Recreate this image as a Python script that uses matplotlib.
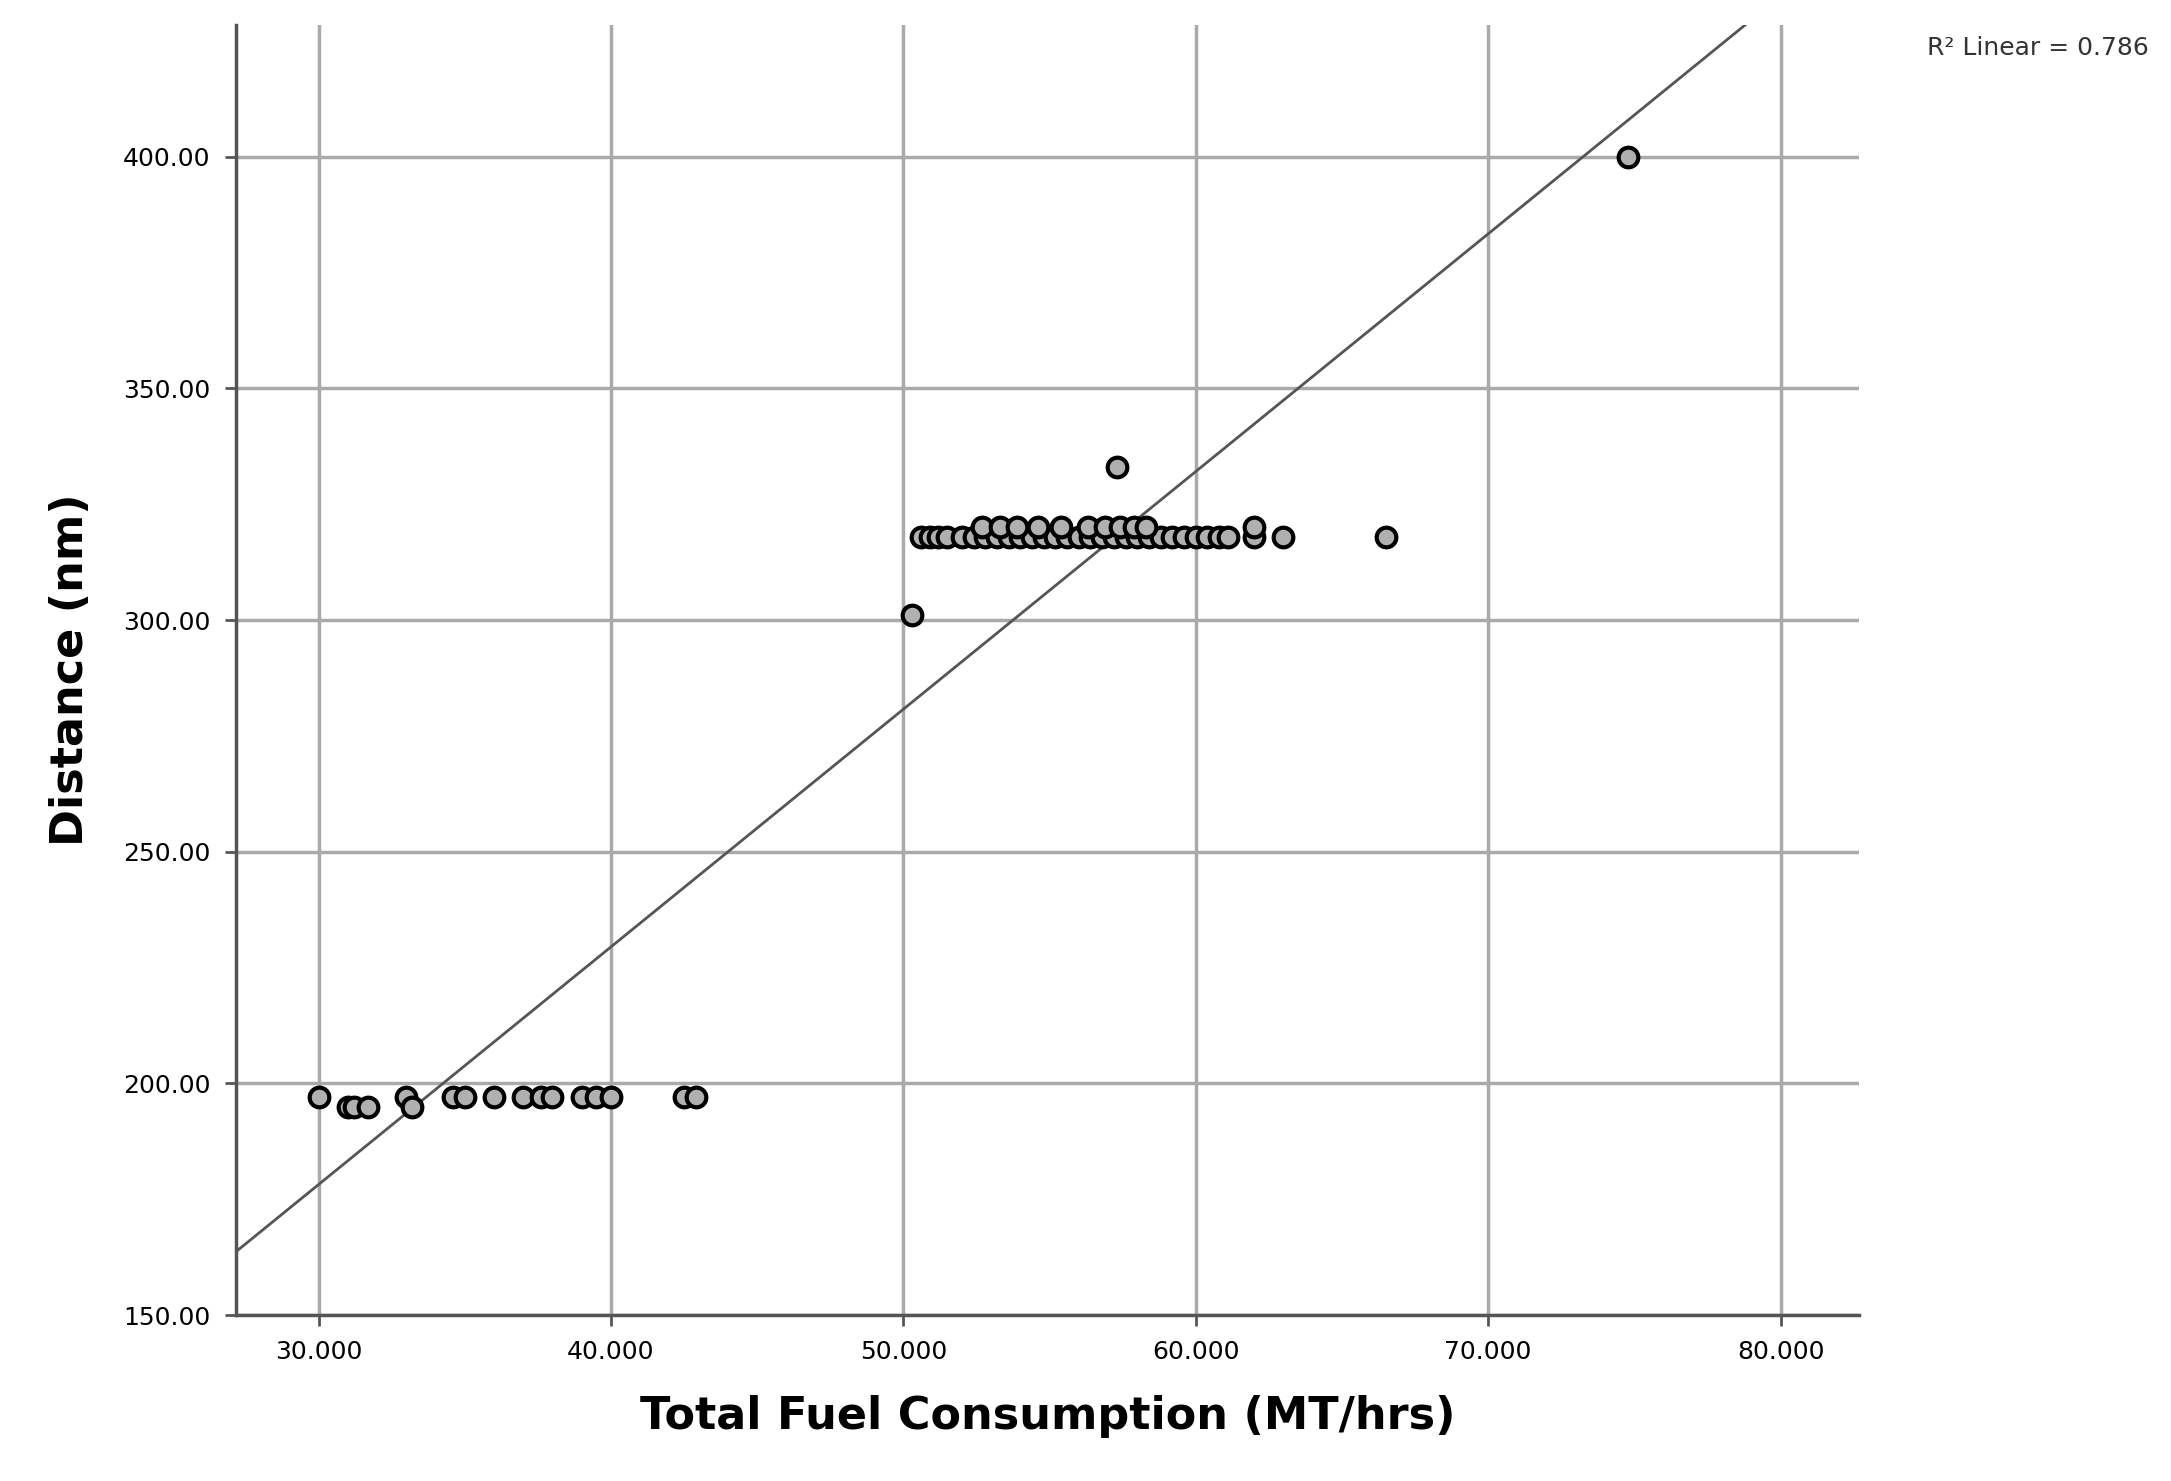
import numpy as np
import matplotlib.pyplot as plt

# fuel consumption (MT/hrs) vs distance (nm)
low_fuel = [30.0, 31.0, 31.2, 31.7, 33.0, 33.2, 34.6, 35.0, 36.0, 37.0, 37.6, 38.0,
            39.0, 39.5, 40.0, 42.5, 42.9]
low_dist = [197, 195, 195, 195, 197, 195, 197, 197, 197, 197, 197, 197,
            197, 197, 197, 197, 197]

mid_fuel = [50.6, 50.9, 51.2, 51.5, 52.0, 52.4, 52.8, 53.2, 53.6, 54.0, 54.4, 54.8,
            55.2, 55.6, 56.0, 56.4, 56.8, 57.2, 57.6, 58.0, 58.4, 58.8, 59.2, 59.6,
            60.0, 60.4, 60.8, 61.1, 62.0, 63.0, 66.5]
mid_dist = [318] * 28 + [318, 318, 318]
top_fuel = [52.7, 53.3, 53.9, 54.6, 55.4, 56.3, 56.9, 57.4, 57.9, 58.3, 62.0]
top_dist = [320] * 11
odd_fuel = [50.3, 57.3, 74.8]
odd_dist = [301, 333, 400]

fuel = np.array(low_fuel + mid_fuel + top_fuel + odd_fuel)
dist = np.array(low_dist + mid_dist + top_dist + odd_dist)

fig = plt.figure(figsize=(21.71, 14.81), dpi=100)
ax = fig.add_axes([0.1085, 0.112, 0.748, 0.871])

ax.scatter(fuel, dist, s=200, facecolor='#b0b0b0', edgecolor='black', linewidth=3, zorder=3)

slope, intercept = np.polyfit(fuel, dist, 1)
xs = np.array([27.16, 82.7])
ax.plot(xs, slope * xs + intercept, color='#555555', linewidth=2, zorder=2)

ax.set_xlim(27.16, 82.7)
ax.set_ylim(150, 428.4)
ax.set_xticks([30, 40, 50, 60, 70, 80])
ax.set_xticklabels(['30.000', '40.000', '50.000', '60.000', '70.000', '80.000'])
ax.set_yticks([150, 200, 250, 300, 350, 400])
ax.set_yticklabels(['150.00', '200.00', '250.00', '300.00', '350.00', '400.00'])
ax.grid(True, color='#aaaaaa', linewidth=2.5)
ax.set_axisbelow(True)
for s in ['top', 'right']:
    ax.spines[s].set_visible(False)
for s in ['left', 'bottom']:
    ax.spines[s].set_linewidth(2.5)
    ax.spines[s].set_color('#555555')
ax.tick_params(labelsize=18, length=8, width=2, color='#555555', pad=10)

ax.set_xlabel('Total Fuel Consumption (MT/hrs)', fontsize=32, fontweight='bold', labelpad=22)
ax.set_ylabel('Distance (nm)', fontsize=32, fontweight='bold', labelpad=22)

fig.text(0.99, 0.963, 'R² Linear = 0.786', fontsize=18, ha='right', color='#333333')

fig.savefig('out.png')
